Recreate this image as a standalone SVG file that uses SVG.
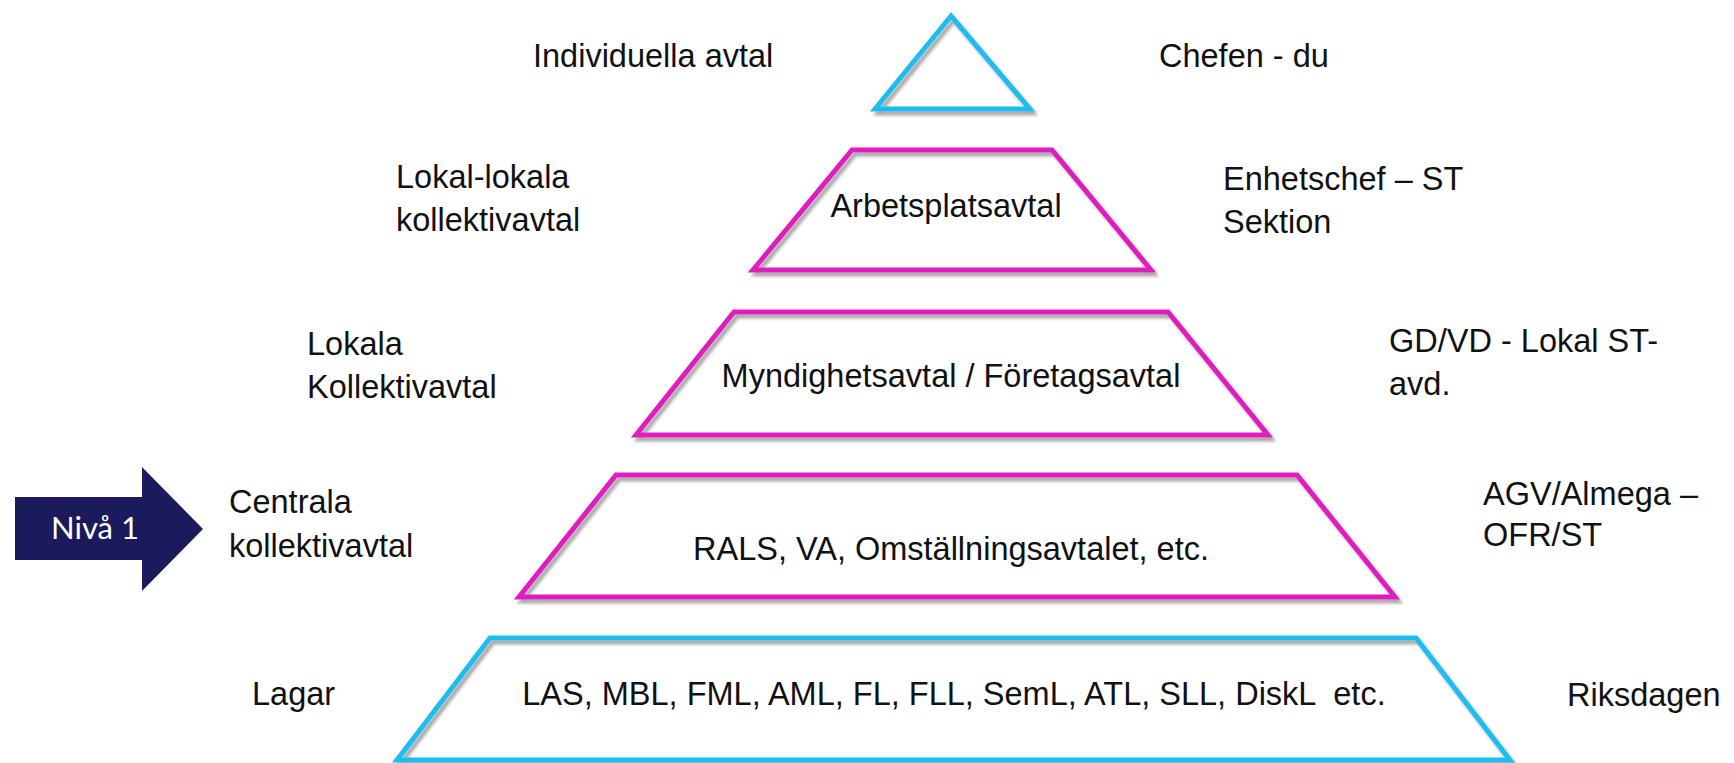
<svg xmlns="http://www.w3.org/2000/svg" width="1734" height="763" viewBox="0 0 1734 763">
  <style>
    .t { font-family: "Liberation Sans", Arial, sans-serif; font-size: 32.5px; fill: #111111; }
    .c { text-anchor: middle; }
    .cy { fill: none; stroke: #1DBDF0; stroke-width: 5; stroke-linejoin: miter; filter: url(#sh); }
    .mg { fill: none; stroke: #E01CC0; stroke-width: 5; stroke-linejoin: miter; filter: url(#sh); }
    .niv { font-family: Lato, "Noto Sans", sans-serif; font-size: 31px; fill: #ffffff; }
  </style>
  <defs>
    <filter id="sh" x="-5%" y="-10%" width="110%" height="125%">
      <feDropShadow dx="3" dy="4" stdDeviation="1.8" flood-color="#7a7a7a" flood-opacity="0.65"/>
    </filter>
  </defs>
  <rect width="1734" height="763" fill="#ffffff"/>

  <g id="level-individual">
    <polygon class="cy" points="951,16 875,109 1030,109"/>
    <text class="t" x="533" y="67">Individuella avtal</text>
    <text class="t" x="1159" y="67">Chefen - du</text>
  </g>

  <g id="level-workplace">
    <polygon class="mg" points="852,150 1052,150 1151,270 753,270"/>
    <text class="t c" x="946" y="217">Arbetsplatsavtal</text>
    <text class="t" x="396" y="188">Lokal-lokala</text>
    <text class="t" x="396" y="231">kollektivavtal</text>
    <text class="t" x="1223" y="190">Enhetschef – ST</text>
    <text class="t" x="1223" y="233">Sektion</text>
  </g>

  <g id="level-local">
    <polygon class="mg" points="734,312 1168,312 1268,435 636,435"/>
    <text class="t c" x="951" y="387">Myndighetsavtal / Företagsavtal</text>
    <text class="t" x="307" y="355">Lokala</text>
    <text class="t" x="307" y="398">Kollektivavtal</text>
    <text class="t" x="1389" y="352">GD/VD - Lokal ST-</text>
    <text class="t" x="1389" y="395">avd.</text>
  </g>

  <g id="level-central">
    <polygon class="mg" points="616,475 1297,475 1395,597 519,597"/>
    <text class="t c" x="951" y="560">RALS, VA, Omställningsavtalet, etc.</text>
    <text class="t" x="229" y="513">Centrala</text>
    <text class="t" x="229" y="557">kollektivavtal</text>
    <text class="t" x="1483" y="505">AGV/Almega –</text>
    <text class="t" x="1483" y="546">OFR/ST</text>
  </g>

  <g id="level-law">
    <polygon class="cy" points="490,638 1416,638 1510,760 397,760"/>
    <text class="t c" x="954" y="705" xml:space="preserve">LAS, MBL, FML, AML, FL, FLL, SemL, ATL, SLL, DiskL  etc.</text>
    <text class="t" x="252" y="705">Lagar</text>
    <text class="t" x="1567" y="706">Riksdagen</text>
  </g>

  <g id="arrow-niva1">
    <polygon fill="#1B1A5C" points="15,497 142,497 142,467 203,529 142,591 142,560 15,560"/>
    <text class="niv" x="95" y="539" text-anchor="middle">Nivå 1</text>
  </g>
</svg>
